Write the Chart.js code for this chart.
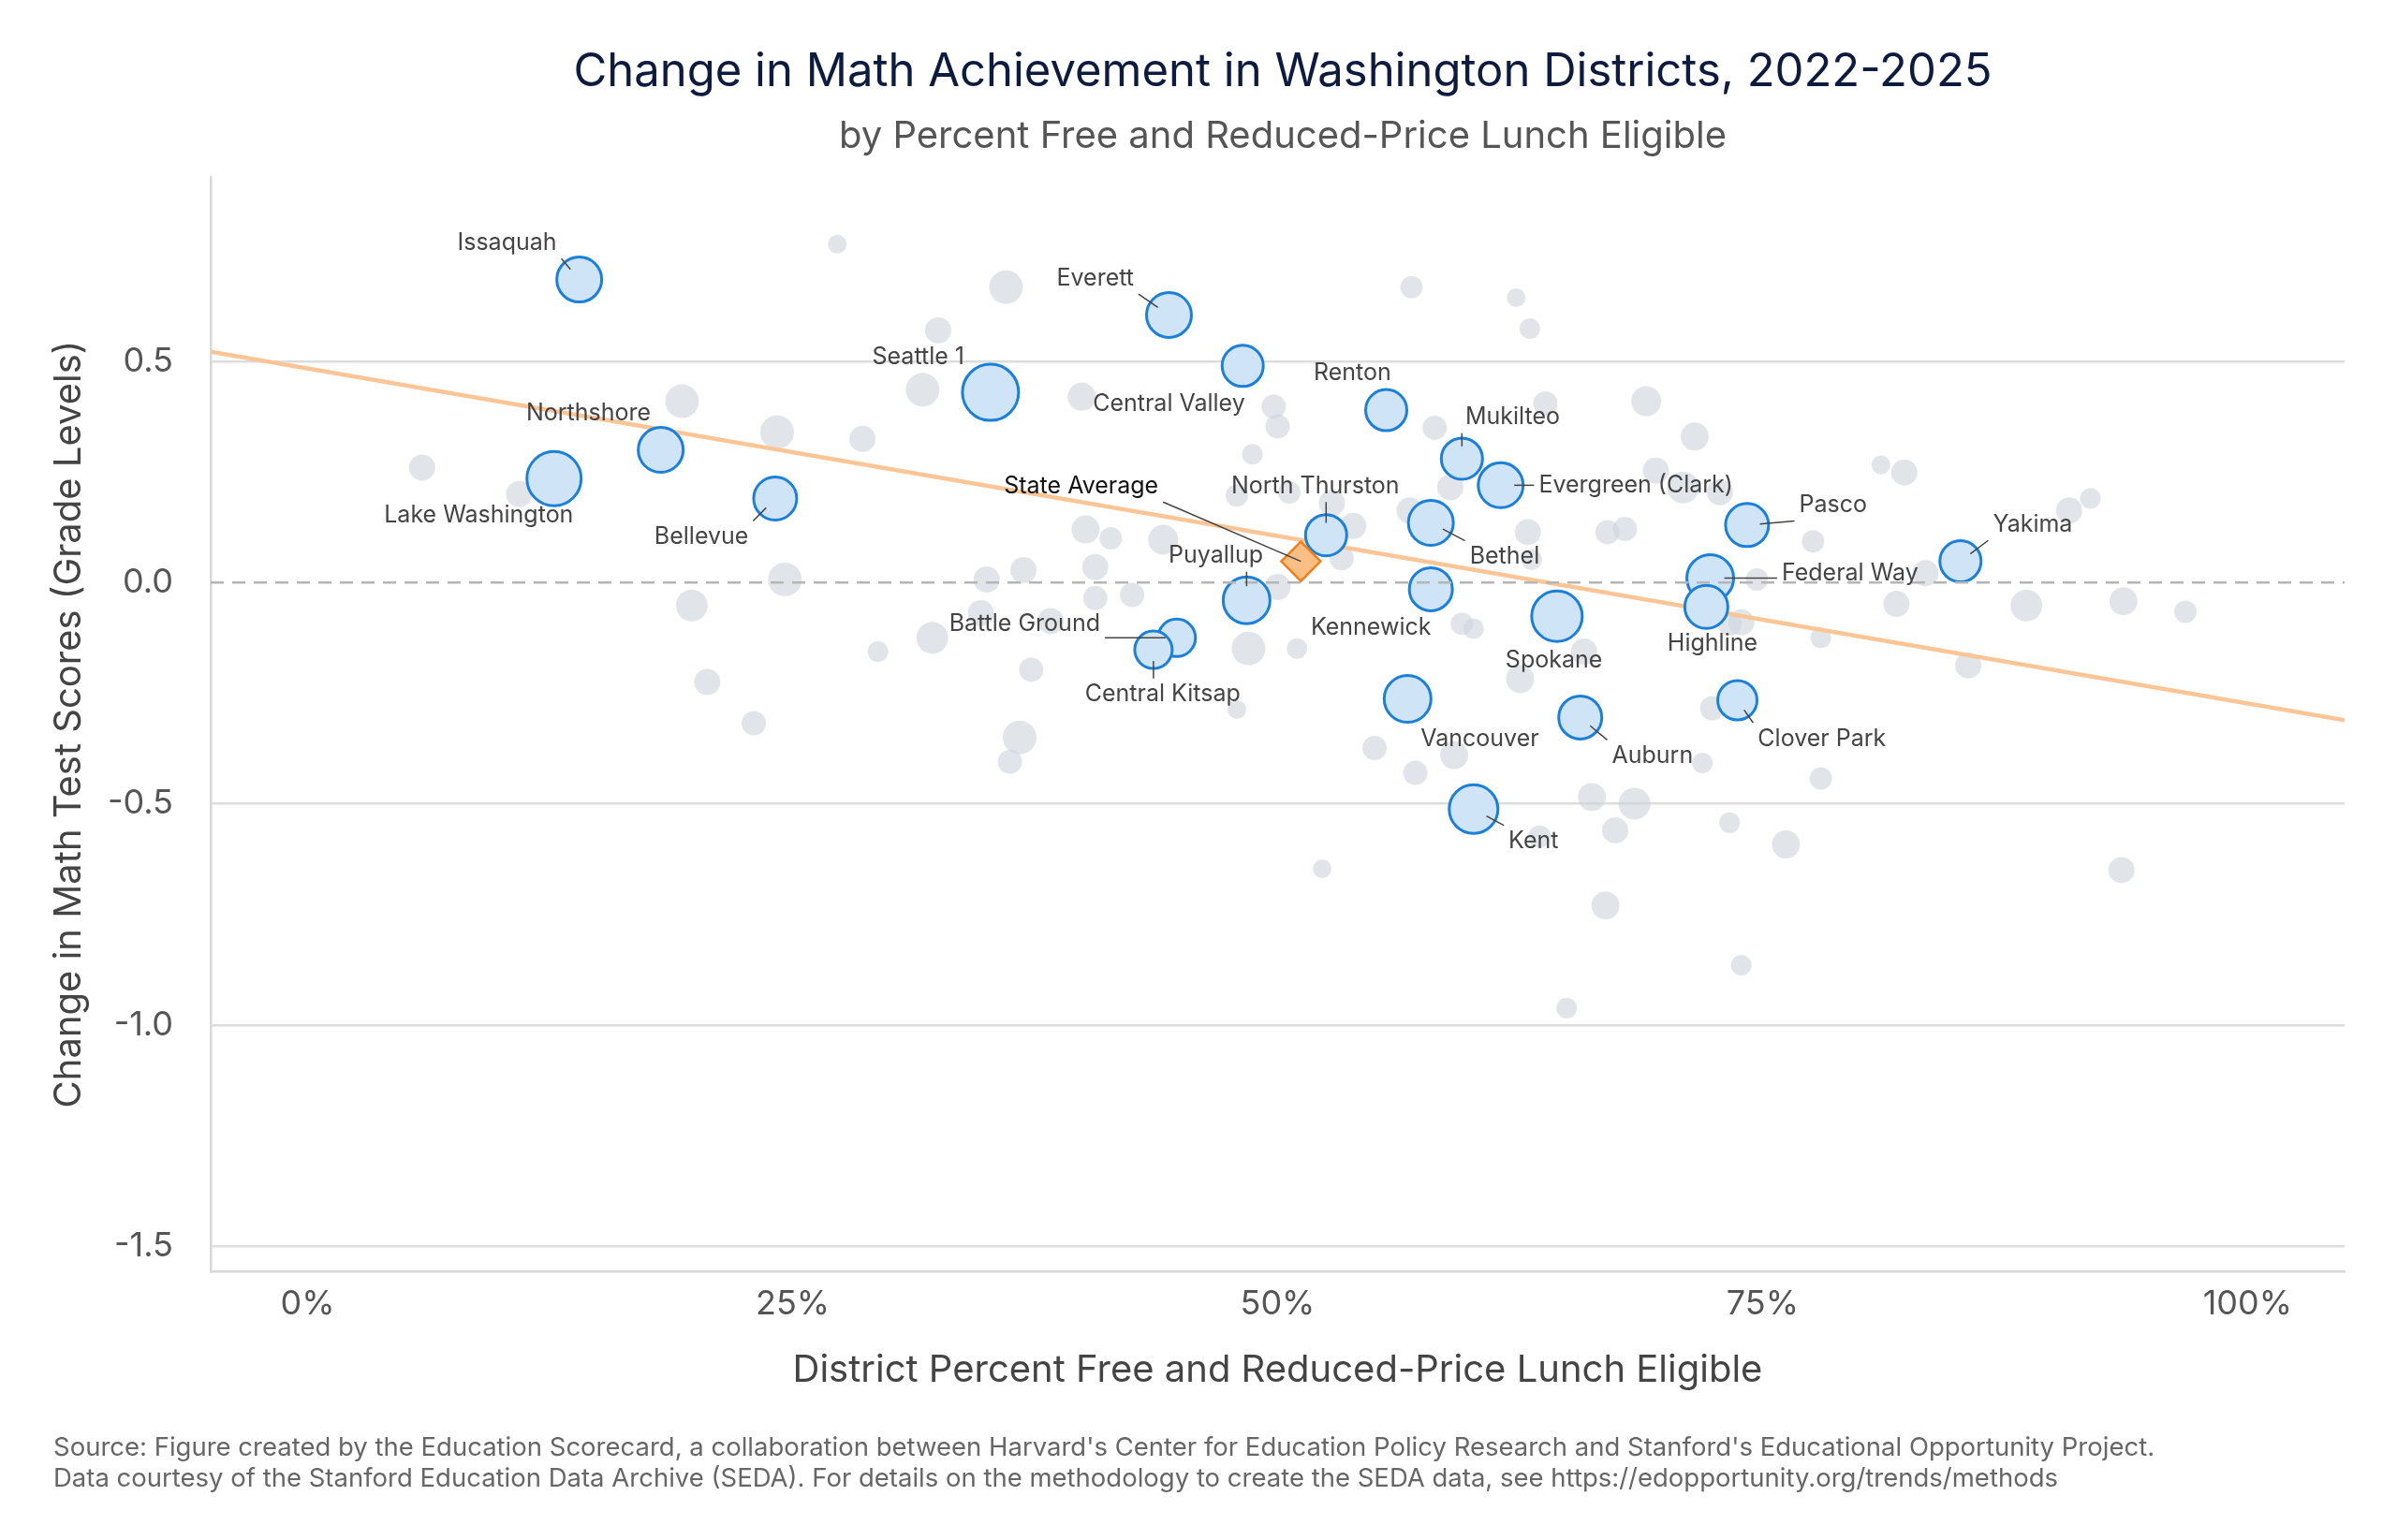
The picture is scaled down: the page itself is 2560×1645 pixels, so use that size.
<!DOCTYPE html>
<html>
<head>
<meta charset="utf-8">
<script src="https://cdn.jsdelivr.net/npm/chart.js@4"></script>
<style>
  html, body { margin: 0; padding: 0; background: #fff; }
  #wrap { width: 2560px; height: 1645px; }
</style>
</head>
<body>
<div id="wrap"><canvas id="chart" width="2560" height="1645"></canvas></div>
<script>
// highlighted districts
const districtNames = ['Issaquah', 'Everett', 'Seattle 1', 'Central Valley', 'Renton', 'Mukilteo', 'Evergreen (Clark)',
  'Northshore', 'Lake Washington', 'Bellevue', 'North Thurston', 'Bethel', 'Pasco', 'Yakima', 'Federal Way',
  'Highline', 'Puyallup', 'Kennewick', 'Spokane', 'Battle Ground', 'Central Kitsap', 'Vancouver', 'Auburn',
  'Clover Park', 'Kent'];
const districtFrl = [14.0, 44.4, 35.2, 48.2, 55.6, 59.5, 61.5, 18.2, 12.7, 24.1, 52.5, 57.9, 74.2, 85.2, 72.3,
  72.1, 48.4, 57.9, 64.4, 44.8, 43.6, 56.7, 65.6, 73.7, 60.1];
const districtChange = [0.685, 0.605, 0.43, 0.49, 0.39, 0.28, 0.22, 0.30, 0.235, 0.19, 0.107, 0.135, 0.13, 0.048, 0.01,
  -0.055, -0.04, -0.015, -0.076, -0.125, -0.152, -0.263, -0.305, -0.266, -0.512];
const districtSize = [24, 24, 30, 22, 22, 22, 24, 24, 29, 23, 22, 24, 23, 22, 25, 23, 25, 23, 27, 20, 20, 25, 23, 21, 26];

// state average
const stateFrl = [51.2];
const stateChange = [0.048];

// other districts
const otherFrl = [27.3, 36.0, 32.5, 31.7, 19.3, 5.9, 10.9, 24.2, 28.6, 39.9, 40.1, 41.4, 40.6, 44.1, 36.9, 35.0, 24.6,
  19.8, 20.6, 23.0, 29.4, 32.2, 34.7, 38.3, 40.6, 42.5, 37.3, 36.7, 36.2, 47.9, 48.7, 49.8, 50.0, 50.6, 52.8, 53.9,
  53.3, 50.0, 48.5, 51.0, 47.9, 55.0, 56.9, 62.3, 63.0, 58.1, 63.8, 56.8, 58.9, 62.9, 59.5, 60.1, 59.1, 57.1, 62.5,
  63.1, 65.8, 67.0, 67.9, 69.0, 69.5, 71.5, 70.9, 72.8, 63.5, 66.2, 68.4, 67.4, 66.9, 64.9, 52.3, 73.3, 73.9, 72.4,
  71.9, 73.3, 73.9, 76.2, 78.0, 78.0, 74.7, 77.6, 81.1, 82.3, 81.9, 83.4, 85.6, 88.6, 90.8, 91.9, 93.6, 96.8, 93.5];
const otherChange = [0.765, 0.668, 0.57, 0.436, 0.41, 0.26, 0.20, 0.34, 0.325, 0.42, 0.12, 0.10, 0.035, 0.097, 0.028,
  0.007, 0.007, -0.052, -0.225, -0.318, -0.156, -0.125, -0.069, -0.087, -0.035, -0.028, -0.197, -0.35, -0.405, 0.197,
  0.29, 0.398, 0.353, 0.204, 0.18, 0.128, 0.055, -0.01, -0.149, -0.149, -0.287, -0.374, 0.668, 0.644, 0.574, 0.35,
  0.405, 0.163, 0.215, 0.114, -0.093, -0.104, -0.39, -0.43, -0.218, 0.052, -0.156, 0.114, 0.121, 0.41, 0.253, 0.33,
  0.215, 0.204, -0.574, -0.485, -0.5, -0.56, -0.73, -0.962, -0.647, -0.093, -0.09, -0.284, -0.408, -0.543, -0.865,
  -0.592, -0.443, -0.125, 0.007, 0.093, 0.266, 0.249, -0.048, 0.021, -0.187, -0.052, 0.163, 0.19, -0.042, -0.066, -0.65];
const otherSize = [10, 18, 14, 18, 18, 14, 14, 18, 14, 15, 15, 12, 14, 16, 14, 14, 18, 17, 14, 13, 11, 17, 14, 14, 13,
  13, 13, 18, 13, 12, 11, 13, 13, 12, 14, 14, 13, 14, 18, 11, 10, 13, 12, 10, 11, 13, 13, 14, 14, 14, 12, 11, 15, 13, 15,
  11, 14, 13, 13, 16, 14, 15, 17, 14, 12, 15, 17, 14, 15, 11, 10, 13, 14, 13, 11, 11, 11, 15, 12, 11, 12, 12, 10, 14,
  14, 14, 14, 17, 14, 11, 15, 12, 14];

// fitted trend line
const trendFrl = [-5, 105];
const trendChange = [0.522, -0.311];

const xTicks = [0, 25, 50, 75, 100];
const yTicks = [-1.5, -1.0, -0.5, 0.0, 0.5];

// label text offsets from point (reference px)
const labelOffsets = [[-47, -24], [-48, -24], [-47, -23], [-48, 25], [-22, -24], [33, -27], [88, 0], [-47, -24],
  [-49, 24], [-48, 25], [-7, -32], [48, 22], [56, -13], [47, -24], [91, -3], [4, 24], [-20, -29], [-39, 25],
  [-2, 29], [-99, -9], [6, 29], [47, 26], [47, 25], [55, 25], [39, 21]];
const stateOffset = [-143, -49];

const S = 1.641;

const labelPlugin = {
  id: 'labels',
  afterDatasetsDraw(chart) {
    const ctx = chart.ctx;
    const ys = chart.scales.y;
    const area = chart.chartArea;
    ctx.save();
    // zero line
    ctx.strokeStyle = '#b5b5b5';
    ctx.lineWidth = 2.5;
    ctx.setLineDash([14, 9]);
    ctx.beginPath();
    ctx.moveTo(area.left, ys.getPixelForValue(0));
    ctx.lineTo(area.right, ys.getPixelForValue(0));
    ctx.stroke();
    ctx.setLineDash([]);
    ctx.restore();
  },
  afterDraw(chart) {
    const ctx = chart.ctx;
    const xs = chart.scales.x, ys = chart.scales.y;
    const area = chart.chartArea;
    ctx.save();
    ctx.font = '25px "Inter", "Noto Sans", sans-serif';
    ctx.textAlign = 'center';
    ctx.textBaseline = 'middle';
    function put(text, px, py, r, off, color) {
      const tx = px + off[0] * S, ty = py + off[1] * S;
      const w = ctx.measureText(text).width, h = 26;
      const bx = Math.max(tx - w / 2 - 5, Math.min(px, tx + w / 2 + 5));
      const by = Math.max(ty - h / 2 - 4, Math.min(py, ty + h / 2 + 4));
      const dx = bx - px, dy = by - py, d = Math.hypot(dx, dy);
      if (d > r + 4) {
        ctx.strokeStyle = '#444';
        ctx.lineWidth = 1.5;
        ctx.beginPath();
        ctx.moveTo(px + dx / d * r * 0.6, py + dy / d * r * 0.6);
        ctx.lineTo(bx, by);
        ctx.stroke();
      }
      ctx.fillStyle = color;
      ctx.fillText(text, tx, ty);
    }
    districtNames.forEach((n, i) => {
      put(n, xs.getPixelForValue(districtFrl[i]), ys.getPixelForValue(districtChange[i]), districtSize[i], labelOffsets[i], '#444');
    });
    put('State Average', xs.getPixelForValue(stateFrl[0]), ys.getPixelForValue(stateChange[0]), 0, stateOffset, '#111');

    // titles
    ctx.textAlign = 'center';
    ctx.fillStyle = '#0d1b3e';
    ctx.font = '49px "Inter", "Noto Sans", sans-serif';
    ctx.fillText('Change in Math Achievement in Washington Districts, 2022-2025', 1370, 77);
    ctx.fillStyle = '#555';
    ctx.font = '40px "Inter", "Noto Sans", sans-serif';
    ctx.fillText('by Percent Free and Reduced-Price Lunch Eligible', 1370, 146);
    ctx.fillStyle = '#444';
    ctx.fillText('District Percent Free and Reduced-Price Lunch Eligible', (area.left + area.right) / 2, 1464);
    ctx.save();
    ctx.translate(74, (area.top + area.bottom) / 2);
    ctx.rotate(-Math.PI / 2);
    ctx.fillText('Change in Math Test Scores (Grade Levels)', 0, 0);
    ctx.restore();
    ctx.textAlign = 'left';
    ctx.fillStyle = '#666';
    ctx.font = '27.5px "Inter", "Noto Sans", sans-serif';
    ctx.fillText("Source: Figure created by the Education Scorecard, a collaboration between Harvard's Center for Education Policy Research and Stanford's Educational Opportunity Project.", 57, 1547);
    ctx.fillText('Data courtesy of the Stanford Education Data Archive (SEDA). For details on the methodology to create the SEDA data, see https://edopportunity.org/trends/methods', 57, 1580);
    ctx.restore();
  }
};

const toPts = (xs, ys) => xs.map((x, i) => ({ x: x, y: ys[i] }));

new Chart(document.getElementById('chart').getContext('2d'), {
  type: 'scatter',
  data: {
    datasets: [
      {
        data: toPts(stateFrl, stateChange),
        pointStyle: 'rectRot', pointRadius: 21,
        backgroundColor: '#fbbf85', borderColor: '#f07f1a', borderWidth: 2.5, order: 1
      },
      {
        data: toPts(districtFrl, districtChange),
        pointRadius: districtSize,
        backgroundColor: '#cfe4f7', borderColor: '#1c7fd8', borderWidth: 3, order: 2
      },
      {
        type: 'line',
        data: toPts(trendFrl, trendChange),
        borderColor: '#fbc596', borderWidth: 4.5, pointRadius: 0, order: 3
      },
      {
        data: toPts(otherFrl, otherChange),
        pointRadius: otherSize,
        backgroundColor: 'rgba(205,212,220,0.6)', borderWidth: 0, order: 4
      }
    ]
  },
  options: {
    responsive: false,
    animation: false,
    layout: { padding: { top: 189, right: 56, bottom: 0, left: 0 } },
    plugins: { legend: { display: false }, tooltip: { enabled: false } },
    scales: {
      x: {
        type: 'linear', min: -5, max: 105,
        afterBuildTicks: s => { s.ticks = xTicks.map(v => ({ value: v })); },
        afterFit: s => { s.height = 287; },
        grid: { display: false, drawTicks: false },
        border: { color: '#d8d8d8', width: 2.5 },
        ticks: { padding: 14, color: '#555', font: { size: 36, family: 'Inter' }, callback: v => v + '%' }
      },
      y: {
        type: 'linear', min: -1.557, max: 0.917,
        afterBuildTicks: s => { s.ticks = yTicks.map(v => ({ value: v })); },
        afterFit: s => { s.width = 225; },
        grid: { color: ctx => ctx.tick && ctx.tick.value === 0 ? 'rgba(0,0,0,0)' : '#dddddd', lineWidth: 2.5, drawTicks: false },
        border: { color: '#d8d8d8', width: 2.5 },
        ticks: { padding: 40, color: '#555', font: { size: 36, family: 'Inter' }, callback: v => v.toFixed(1) }
      }
    }
  },
  plugins: [labelPlugin]
});
</script>
</body>
</html>
